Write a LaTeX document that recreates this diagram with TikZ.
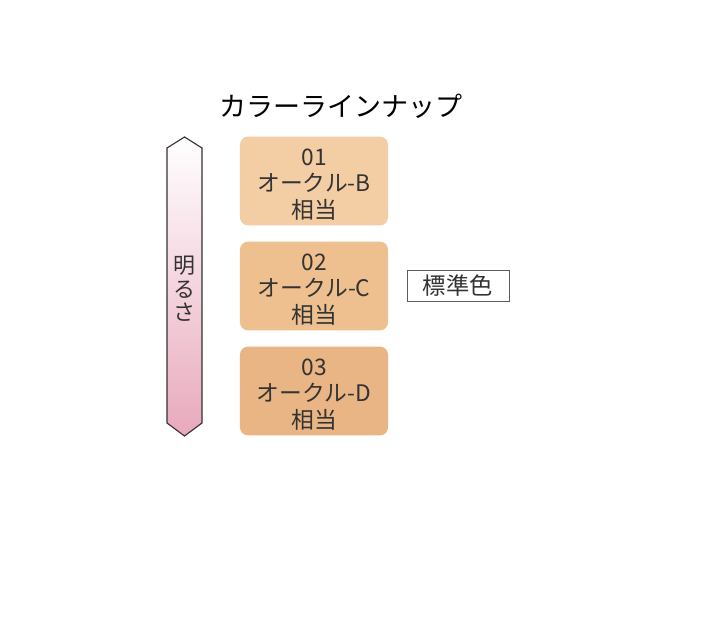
\documentclass[tikz,border=0pt]{standalone}
\usepackage{fontspec}
\setmainfont{Noto Sans CJK JP}
\definecolor{toneB}{HTML}{F3CDA3}
\definecolor{toneC}{HTML}{EFC08F}
\definecolor{toneD}{HTML}{EAB584}
\definecolor{pinkA}{HTML}{E8A9BC}
\definecolor{inkA}{HTML}{333333}
\newcommand{\shadelines}[1]{\raisebox{-4.3pt}[\height][\depth]{\begin{tabular}{@{}c@{}}#1\end{tabular}}}
\begin{document}
\begin{tikzpicture}[x=0.025cm,y=-0.025cm,tone/.style={rounded corners=0.2cm,minimum width=3.7cm,minimum height=2.2cm,align=center,text=inkA,font=\fontsize{16.2}{18.6}\selectfont},tag/.style={draw=inkA!80,thin,minimum width=2.55cm,minimum height=0.7cm,text=inkA,font=\fontsize{16.6}{18}\selectfont},heading/.style={text=black,font=\fontsize{19.2}{22}\selectfont}]
\def\bx{314};
\def\dy{105};

\fill[white] (0,0) rectangle (720,617);

\node[heading] (T) at (341,106) {カラーラインナップ};

\shade[top color=white,bottom color=pinkA,draw=inkA,line width=0.8pt] (167,148) -- (184.5,137) -- (202,148) -- (202,423) -- (184.5,436) -- (167,423) -- cycle;
\node[align=center,text=inkA,font=\fontsize{15.6}{16.8}\selectfont] (L) at (184.5,289) {明\\る\\さ};

\node[tone,fill=toneB] (B) at (\bx,181) {\shadelines{01\\オークル-B\\相当}};
\node[tone,fill=toneC] (C) at (\bx,181+\dy) {\shadelines{02\\オークル-C\\相当}};
\node[tone,fill=toneD] (D) at (\bx,181+2*\dy) {\shadelines{03\\オークル-D\\相当}};

\node[tag] (S) at (458,286) {標準色};
\end{tikzpicture}
\end{document}
